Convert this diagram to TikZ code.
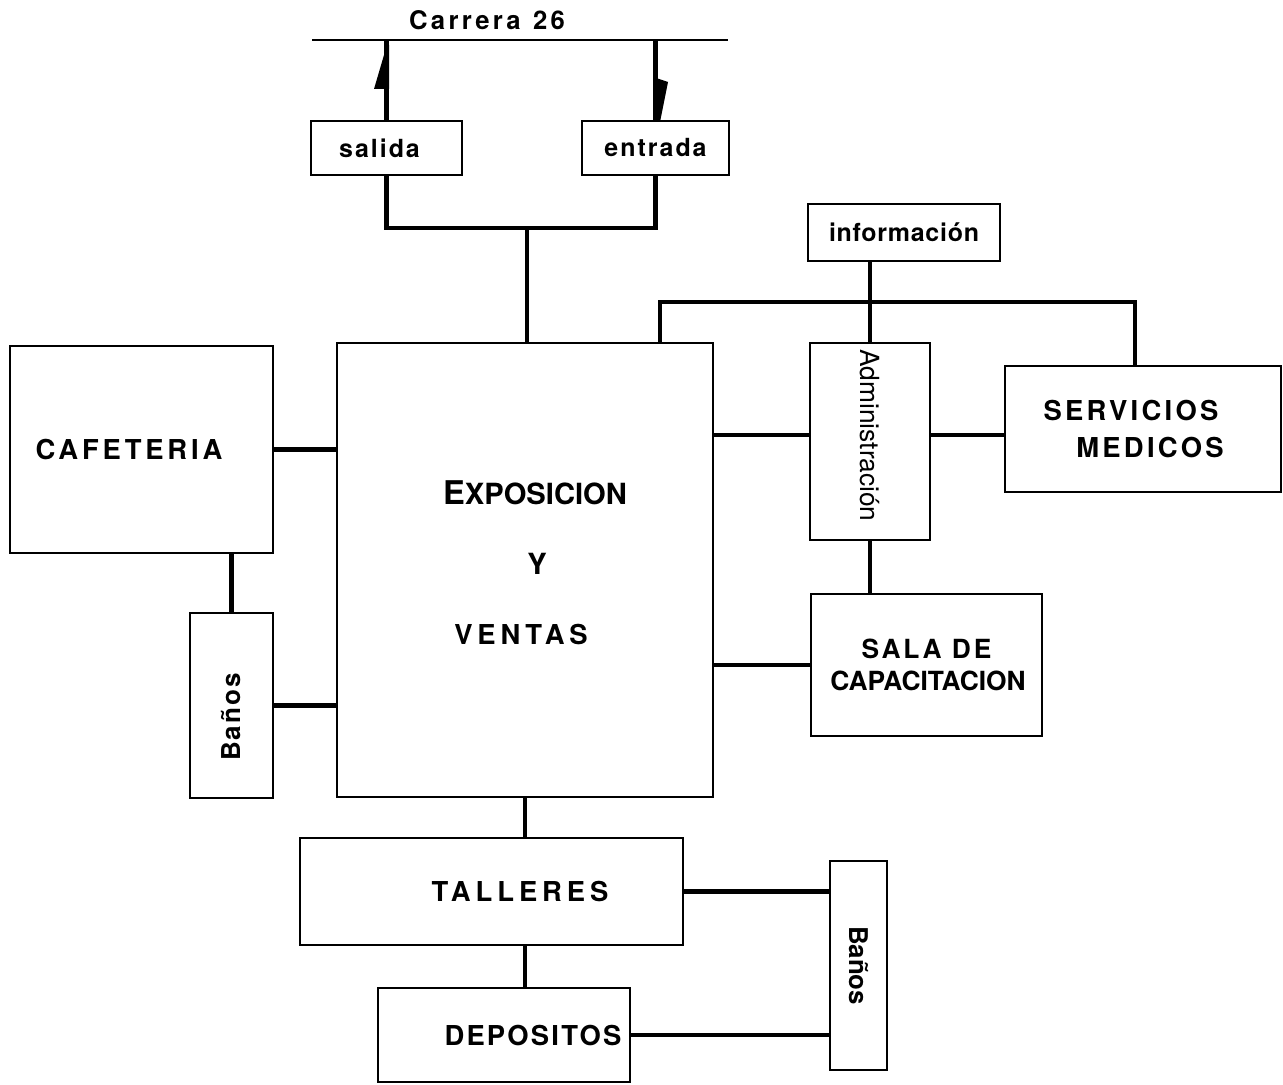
\documentclass[tikz,border=0pt]{standalone}
\usepackage{fontspec}
\setmainfont{TeX Gyre Heros}
\newfontfamily\capsfont[LetterSpace=14]{TeX Gyre Heros}
\newfontfamily\lowfont[LetterSpace=8]{TeX Gyre Heros}
\usetikzlibrary{calc}

\tikzset{
	box/.style={draw, line width=1.1pt, inner sep=0pt},
	link/.style={line width=2.6pt},
	caps/.style={font=\capsfont\bfseries\fontsize{15.6}{19}\selectfont},
	lower/.style={font=\lowfont\bfseries\fontsize{14.2}{17}\selectfont},
	banos/.style={font=\lowfont\bfseries\fontsize{14.8}{18}\selectfont},
}

\begin{document}
\begin{tikzpicture}[x=0.02cm, y=-0.02cm]
		\useasboundingbox (0,0) rectangle (1283,1084);
		% street
		\coordinate (roadL) at (312,40);
		\coordinate (roadR) at (728,40);
		\draw[line width=1.6pt] (roadL) -- (roadR);
		\node[font=\capsfont\addfontfeature{LetterSpace=13}\bfseries\fontsize{14.6}{17}\selectfont] (street) at (487,20)
			{Carrera\hspace{0.25cm}26};
		% access
		\node[box, lower, minimum width=3.02cm, minimum height=1.08cm] (salida) at (386.5,148) {\hspace*{-0.28cm}salida};
		\node[box, lower, minimum width=2.94cm, minimum height=1.08cm] (entrada) at (655.5,148) {entrada};
		% main hall
		\node[box, minimum width=7.52cm, minimum height=9.08cm] (expo) at (525,570) {};
		\node[align=center, font=\bfseries\fontsize{16.6}{20}\selectfont] (expoTxt) at (531,563)
			{\hspace*{0.16cm}{\fontsize{18.6}{20}\selectfont E}XPOSICION\\[0.7cm]
			 \hspace*{0.24cm}Y\\[0.7cm]
			 \hspace*{-0.4cm}{\addfontfeature{LetterSpace=18}\fontsize{15.6}{20}\selectfont VENTAS}};
		% west side
		\node[box, caps, minimum width=5.26cm, minimum height=4.14cm] (caf) at (141.5,449.5) {\hspace*{-0.5cm}CAFETERIA};
		\node[box, banos, minimum width=1.66cm, minimum height=3.7cm] (banosA) at (231.5,705.5)
			{\rotatebox{90}{\hspace*{-0.46cm}Baños}};
		% east side
		\node[box, lower, minimum width=3.84cm, minimum height=1.14cm] (info) at (904,232.5)
			{\addfontfeature{LetterSpace=3}información};
		\node[box, minimum width=2.4cm, minimum height=3.94cm,
			font=\fontsize{15}{18}\selectfont] (admin) at (870,441.5) {\rotatebox{-90}{\hspace*{-0.24cm}Administración}};
		\node[box, font=\capsfont\addfontfeature{LetterSpace=12}\bfseries\fontsize{15.6}{19}\selectfont,
			minimum width=5.52cm, minimum height=2.52cm, align=center] (serv) at (1143,429)
			{\hspace*{-0.48cm}SERVICIOS\\[0.09cm]\hspace*{0.28cm}MEDICOS};
		\node[box, minimum width=4.62cm, minimum height=2.84cm, align=center,
			font=\bfseries\fontsize{15}{18.2}\selectfont] (sala) at (926.5,665)
			{{\addfontfeature{LetterSpace=11}SALA DE}\\\hspace*{0.06cm}CAPACITACION};
		% south side
		\node[box, caps, minimum width=7.66cm, minimum height=2.14cm] (tall) at (491.5,891.5)
			{\makebox[0pt]{\hspace*{1.14cm}\addfontfeature{LetterSpace=18}TALLERES}};
		\node[box, caps, minimum width=5.04cm, minimum height=1.88cm] (depos) at (504,1035)
			{\makebox[0pt]{\hspace*{1.16cm}\addfontfeature{LetterSpace=8}DEPOSITOS}};
		\node[box, minimum width=1.14cm, minimum height=4.18cm,
			font=\bfseries\fontsize{14.7}{18}\selectfont] (banosB) at (858.5,965.5) {\rotatebox{-90}{Baños}};
		% street connections with direction marks
		\draw[link] (salida.north) -- (salida.north |- roadL);
		\draw[link] (entrada.north) -- (entrada.north |- roadL);
		\fill (374,89) -- (389,89) -- (389,45) -- (384,55) -- cycle;
		\fill (656,78) -- (668,82) -- (660,122) -- (656,122) -- cycle;
		\coordinate (gate) at (527,228);
		\draw[link] (salida.south) -- (salida.south |- gate) -- (entrada.south |- gate) -- (entrada.south);
		\draw[link] (gate) -- (gate |- expo.north);
		% west links
		\draw[link] (caf.east) -- (caf.east -| expo.west);
		\draw[link] (banosA.north) -- (banosA.north |- caf.south);
		\draw[link] (banosA.east) -- (banosA.east -| expo.west);
		% east links
		\coordinate (bus) at (660,302);
		\draw[link] (bus |- expo.north) -- (bus) -- (1135,302) coordinate (busR) -- (busR |- serv.north);
		\draw[link] (info.south -| admin.north) -- (admin.north);
		\coordinate (mid) at (0,435);
		\draw[link] (expo.east |- mid) -- (admin.west |- mid);
		\draw[link] (admin.east |- mid) -- (serv.west |- mid);
		\draw[link] (admin.south) -- (admin.south |- sala.north);
		\draw[link] (sala.west) -- (sala.west -| expo.east);
		% south links
		\draw[link] (expo.south) -- (expo.south |- tall.north);
		\draw[link] (tall.south -| expo.south) -- (depos.north -| expo.south);
		\draw[link] (tall.east) -- (tall.east -| banosB.west);
		\draw[link] (depos.east) -- (depos.east -| banosB.west);
	\end{tikzpicture}
\end{document}
